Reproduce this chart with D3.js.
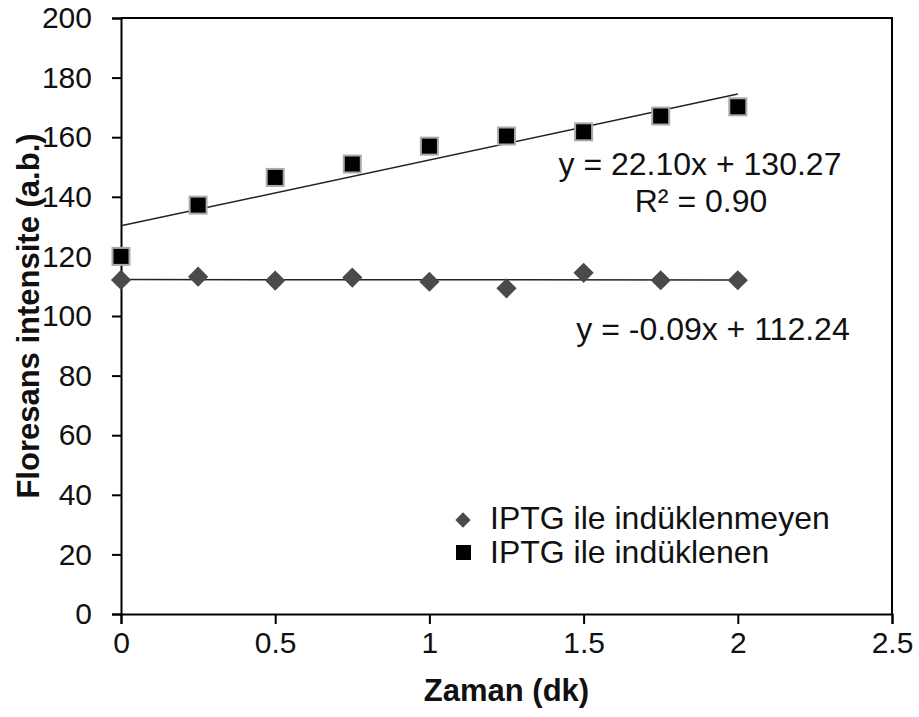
<!DOCTYPE html>
<html>
<head>
<meta charset="utf-8">
<script src="https://cdn.jsdelivr.net/npm/d3@7"></script>
<style>
  body { margin: 0; background: #fff; }
  svg { font-family: "Liberation Sans", Arial, sans-serif; }
</style>
</head>
<body>
<div id="content"></div>
<script>
const svgWidth = 919, svgHeight = 717;

const times = [0, 0.25, 0.5, 0.75, 1, 1.25, 1.5, 1.75, 2];
const uninduced = [112.1, 113.2, 111.9, 112.9, 111.5, 109.3, 114.5, 112.0, 112.0];
const induced = [120.0, 137.2, 146.5, 151.0, 157.0, 160.4, 161.8, 167.1, 170.2];
const seriesNames = ["IPTG ile indüklenmeyen", "IPTG ile indüklenen"];
const fits = [{slope: -0.09, icept: 112.24}, {slope: 22.10, icept: 130.27}];
const xTicks = [0, 0.5, 1, 1.5, 2, 2.5];
const yTicks = [0, 20, 40, 60, 80, 100, 120, 140, 160, 180, 200];

const margin = {left: 121, right: 27, top: 18, bottom: 103};

window.addEventListener("load", () => {
  const svg = d3.select("#content").append("svg")
    .attr("width", svgWidth)
    .attr("height", svgHeight);

  const x = d3.scaleLinear().domain([0, 2.5]).range([margin.left, svgWidth - margin.right]);
  const y = d3.scaleLinear().domain([0, 200]).range([svgHeight - margin.bottom, margin.top]);

  // frame (top + right)
  svg.append("path")
    .attr("d", `M${x(0)},${y(200)}H${x(2.5)}V${y(0)}`)
    .attr("fill", "none").attr("stroke", "#000").attr("stroke-width", 2);

  const yAxis = svg.append("g")
    .attr("transform", `translate(${x(0)},0)`)
    .call(d3.axisLeft(y).tickValues(yTicks).tickSize(9).tickPadding(20).tickFormat(d3.format("d")));
  const xAxis = svg.append("g")
    .attr("transform", `translate(0,${y(0)})`)
    .call(d3.axisBottom(x).tickValues(xTicks).tickSize(10).tickPadding(8).tickFormat(d => d));

  [xAxis, yAxis].forEach(g => {
    g.select(".domain").attr("stroke-width", 2);
    g.selectAll(".tick line").attr("stroke-width", 2);
    g.selectAll(".tick text").attr("font-size", 30).attr("fill", "#111")
      .attr("font-family", "'Liberation Sans', Arial, sans-serif");
  });

  // trend lines
  fits.forEach(f => {
    svg.append("line")
      .attr("x1", x(0)).attr("y1", y(f.icept))
      .attr("x2", x(2)).attr("y2", y(f.icept + f.slope * 2))
      .attr("stroke", "#222").attr("stroke-width", 1.5);
  });

  const diamond = d3.symbol().type(d3.symbolDiamond2);

  // uninduced: diamonds
  svg.append("g").selectAll("path")
    .data(times.map((t, i) => [t, uninduced[i]]))
    .enter().append("path")
    .attr("d", diamond.size(260)())
    .attr("transform", d => `translate(${x(d[0])},${y(d[1])})`)
    .attr("fill", "#4a4a4a");

  // induced: squares
  svg.append("g").selectAll("rect")
    .data(times.map((t, i) => [t, induced[i]]))
    .enter().append("rect")
    .attr("x", d => x(d[0]) - 8.5).attr("y", d => y(d[1]) - 8.5)
    .attr("width", 17).attr("height", 17)
    .attr("fill", "#000").attr("stroke", "#aaa").attr("stroke-width", 2);

  // equations
  const eq = svg.append("g").attr("font-size", 32).attr("fill", "#111");
  eq.append("text").attr("x", 700).attr("y", 175).attr("text-anchor", "middle")
    .text(`y = ${fits[1].slope.toFixed(2)}x + ${fits[1].icept.toFixed(2)}`);
  eq.append("text").attr("x", 701).attr("y", 212).attr("text-anchor", "middle")
    .text("R² = 0.90");
  eq.append("text").attr("x", 713).attr("y", 340).attr("text-anchor", "middle")
    .text(`y = ${fits[0].slope.toFixed(2)}x + ${fits[0].icept.toFixed(2)}`);

  // axis titles
  svg.append("text")
    .attr("x", (x(0) + x(2.5)) / 2).attr("y", 701)
    .attr("text-anchor", "middle").attr("font-size", 31).attr("font-weight", "bold")
    .attr("fill", "#111").text("Zaman (dk)");
  svg.append("text")
    .attr("transform", `translate(39,${(y(0) + y(200)) / 2}) rotate(-90)`)
    .attr("text-anchor", "middle").attr("font-size", 31).attr("font-weight", "bold")
    .attr("fill", "#111").text("Floresans intensite (a.b.)");

  // legend
  const legend = svg.append("g");
  legend.append("path")
    .attr("d", diamond.size(150)())
    .attr("transform", "translate(463,520)")
    .attr("fill", "#4a4a4a");
  legend.append("rect")
    .attr("x", 456).attr("y", 545).attr("width", 15).attr("height", 15)
    .attr("fill", "#000");
  legend.selectAll("text")
    .data(seriesNames)
    .enter().append("text")
    .attr("x", 490).attr("y", (d, i) => 529 + i * 34)
    .attr("font-size", 32).attr("fill", "#111")
    .text(d => d);
});
</script>
</body>
</html>
